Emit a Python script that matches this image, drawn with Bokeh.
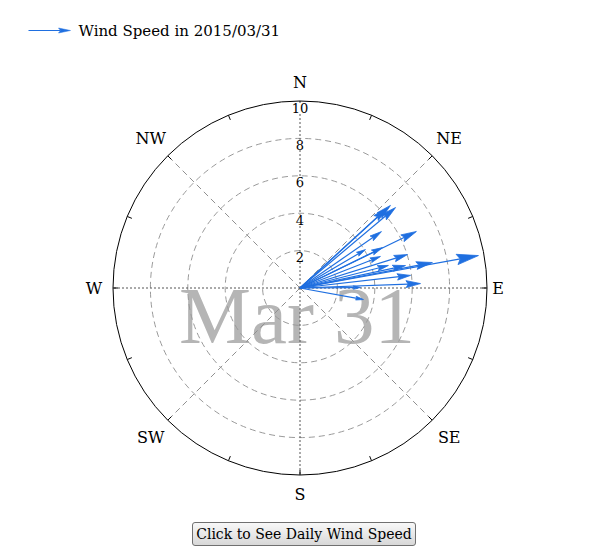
import numpy as np
from bokeh.plotting import figure
from bokeh.models import Button, InlineStyleSheet
from bokeh.layouts import column
from bokeh.embed import file_html
from bokeh.resources import INLINE
from bokeh.core.properties import value

# ---------------- data ----------------
date_str = "2015/03/31"
day_label = "Mar 31"
legend_label = "Wind Speed in " + date_str

# wind speed (m/s) and direction (degrees clockwise from north)
speeds = [6.68, 6.55, 6.28, 5.30, 6.92, 4.06, 4.91, 6.02, 9.70,
          7.21, 5.77, 5.95, 6.45, 3.45, 3.24, 4.88, 4.62]
directions = [49.9, 47.6, 47.4, 55.3, 64.1, 59.6, 63.9, 72.7, 79.7,
              79.1, 78.0, 83.5, 87.9, 100.3, 89.5, 75.7, 68.6]

ring_values = [2, 4, 6, 8, 10]
ring_labels = ["2", "4", "6", "8", "10"]
compass_names = ["N", "NE", "E", "SE", "S", "SW", "W", "NW"]
compass_angles = [0, 45, 90, 135, 180, 225, 270, 315]
r_max = 10

# ---------------- layout ----------------
W, H = 592, 514
SCALE = 18.7          # px per unit
CX, CY = 299.5, 287.5 # centre in figure px
ARROW_COLOR = "#1f6fe0"
SERIF = "DejaVu Serif"
label_gap = [19, 24, 11, 24, 19, 24, 19, 24]   # px beyond outer ring

def px(dx):
    return dx / SCALE

p = figure(width=W, height=H,
           x_range=(-CX / SCALE, (W - CX) / SCALE),
           y_range=(-(H - CY) / SCALE, CY / SCALE),
           output_backend="svg", toolbar_location=None,
           x_axis_location=None, y_axis_location=None,
           min_border=0)
p.grid.visible = False
p.outline_line_color = None

# big day label in background
p.text(x=[px(-3)], y=[px(-27.5)], text=[day_label],
       text_font=value("Liberation Serif"), text_font_size="81px",
       text_color="#b5b5b5", text_align="center", text_baseline="alphabetic")

# rings
inner = ring_values[:-1]
p.circle(x=[0] * len(inner), y=[0] * len(inner), radius=inner,
         fill_color=None, line_color="#9a9a9a", line_dash="6 4", line_width=1)

# diagonal spokes (dashed) and cardinal axes (dotted)
diag = [a for a in compass_angles if a % 90 != 0]
card = [a for a in compass_angles if a % 90 == 0]
th_d = np.radians(diag)
p.segment(x0=[0] * len(diag), y0=[0] * len(diag),
          x1=list(r_max * np.sin(th_d)), y1=list(r_max * np.cos(th_d)),
          line_color="#909090", line_dash="6 4", line_width=1)
th_c = np.radians(card)
p.segment(x0=[0] * len(card), y0=[0] * len(card),
          x1=list(r_max * np.sin(th_c)), y1=list(r_max * np.cos(th_c)),
          line_color="#555555", line_dash="2 2", line_width=1)

# outer ring
p.circle(x=[0], y=[0], radius=[r_max], fill_color=None,
         line_color="black", line_width=1)

# minor ticks on outer ring
tick_ang = np.radians(np.arange(0, 360, 22.5))
p.segment(x0=list(r_max * np.sin(tick_ang)), y0=list(r_max * np.cos(tick_ang)),
          x1=list((r_max - px(5)) * np.sin(tick_ang)),
          y1=list((r_max - px(5)) * np.cos(tick_ang)),
          line_color="black", line_width=1)

# wind vectors
sp = np.array(speeds)
th = np.radians(directions)
ux, uy = np.sin(th), np.cos(th)
nx, ny = np.cos(th), -np.sin(th)
hl = 0.12 * sp           # head length
hw = 0.24 * hl           # head half width
tipx, tipy = sp * ux, sp * uy
bx, by = tipx - hl * ux, tipy - hl * uy
mx, my = tipx - 0.85 * hl * ux, tipy - 0.85 * hl * uy
p.segment(x0=[0] * len(sp), y0=[0] * len(sp), x1=list(mx), y1=list(my),
          line_color=ARROW_COLOR, line_width=1.2)
xs = [[tipx[i], bx[i] + hw[i] * nx[i], mx[i], bx[i] - hw[i] * nx[i]] for i in range(len(sp))]
ys = [[tipy[i], by[i] + hw[i] * ny[i], my[i], by[i] - hw[i] * ny[i]] for i in range(len(sp))]
p.patches(xs=xs, ys=ys, fill_color=ARROW_COLOR, line_color=ARROW_COLOR, line_width=0.8)

# radial labels along north axis
p.text(x=[0] * len(ring_values), y=[v - px(1.5) for v in ring_values],
       text=ring_labels, text_font=value(SERIF), text_font_size="13px",
       text_color="black", text_align="center", text_baseline="top",
       background_fill_color="white")

# compass labels
ca = np.radians(compass_angles)
cr = r_max + np.array([px(g) for g in label_gap])
p.text(x=list(cr * np.sin(ca)), y=list(cr * np.cos(ca)), text=compass_names,
       text_font=value(SERIF), text_font_size="16px", text_color="black",
       text_align="center", text_baseline="middle")

# legend (top-left)
lx0 = -CX / SCALE + px(28)
lx1 = -CX / SCALE + px(70)
ly = CY / SCALE - px(30)
p.segment(x0=[lx0], y0=[ly], x1=[lx1 - px(10)], y1=[ly],
          line_color=ARROW_COLOR, line_width=1.2)
p.patches(xs=[[lx1, lx1 - px(12), lx1 - px(10), lx1 - px(12)]],
          ys=[[ly, ly + px(2.5), ly, ly - px(2.5)]],
          fill_color=ARROW_COLOR, line_color=ARROW_COLOR, line_width=0.5)
p.text(x=[lx1 + px(8)], y=[ly], text=[legend_label],
       text_font=value(SERIF), text_font_size="15px", text_color="black",
       text_align="left", text_baseline="middle")

# button
css = InlineStyleSheet(css="""
.bk-btn, .bk-btn-default {
  font-family: 'DejaVu Serif', serif !important;
  font-size: 14px !important;
  color: black !important;
  background: linear-gradient(#f8f8f8, #d8d8d8) !important;
  border: 1px solid #707070 !important;
  border-radius: 3px !important;
  padding: 0 2px !important;
  height: 24px !important;
  line-height: 20px !important;
}
""")
btn = Button(label="Click to See Daily Wind Speed", width=224, height=24,
             margin=(8, 0, 0, 192), stylesheets=[css])

layout = column(p, btn)
open("out.html", "w").write(file_html(layout, INLINE))
